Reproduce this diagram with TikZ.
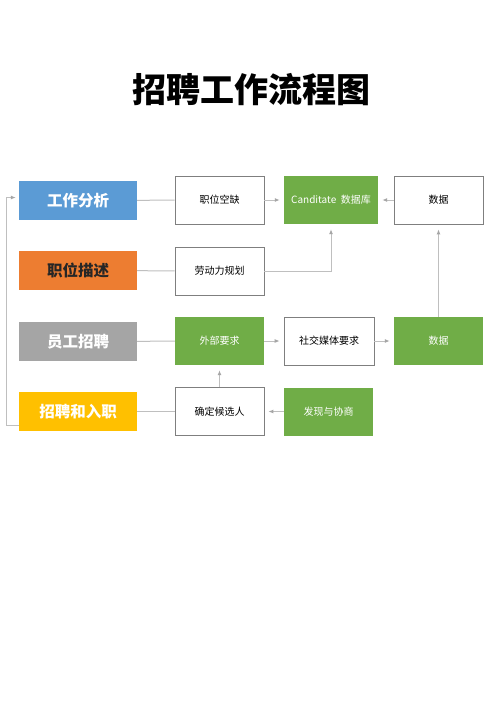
\documentclass[tikz,border=0pt]{standalone}
\usepackage{fontspec}
\setmainfont{Noto Sans CJK SC}
\usetikzlibrary{arrows.meta}
\definecolor{cblue}{HTML}{5B9BD5}
\definecolor{corange}{HTML}{ED7D31}
\definecolor{cgray}{HTML}{A5A5A5}
\definecolor{cyellow}{HTML}{FFC000}
\definecolor{cgreen}{HTML}{70AD47}
\definecolor{cborder}{HTML}{7F7F7F}
\definecolor{cline}{HTML}{BFBFBF}
\definecolor{carrow}{HTML}{A6A6A6}
\begin{document}
\begin{tikzpicture}[x=1pt,y=-1pt,
  catbox/.style={minimum width=118pt,minimum height=39pt,inner sep=0pt,font=\fontsize{15.5}{18}\selectfont\bfseries},
  wbox/.style={draw=cborder,line width=0.7pt,fill=white,minimum width=89pt,minimum height=48pt,inner sep=0pt,font=\fontsize{10}{12}\selectfont},
  gbox/.style={fill=cgreen,text=white,minimum height=48pt,inner sep=0pt,font=\fontsize{10}{12}\selectfont},
  conn/.style={draw=cline,line width=1pt},
  arr/.style={conn,-{Latex[length=5pt,width=4pt,fill=carrow,color=carrow]}}
]
\useasboundingbox[fill=white] (0,0) rectangle (500,707);
\node[font=\fontsize{34}{40}\selectfont\bfseries] (title) at (251,90) {招聘工作流程图};

\node[catbox,fill=cblue,text=white] (a1) at (78,200.5) {工作分析};
\node[catbox,fill=corange,text=black!85] (a2) at (78,270.5) {职位描述};
\node[catbox,fill=cgray,text=white] (a3) at (78,341.5) {员工招聘};
\node[catbox,fill=cyellow,text=white] (a4) at (78,411.5) {招聘和入职};

\node[wbox] (b1) at (219.5,200) {职位空缺};
\node[wbox] (b2) at (219.5,271) {劳动力规划};
\node[gbox,minimum width=89pt] (b3) at (219.5,341) {外部要求};
\node[wbox] (b4) at (219.5,411.5) {确定候选人};

\node[gbox,minimum width=94pt] (c1) at (331,200) {Canditate\ \ 数据库};
\node[wbox,minimum width=90pt] (c3) at (329,341) {社交媒体要求};
\node[gbox,minimum width=89pt] (c4) at (328.5,411.5) {发现与协商};

\node[wbox] (d1) at (438.5,200) {数据};
\node[gbox,minimum width=89pt] (d3) at (438.5,341) {数据};

\draw[conn] (a1) -- (b1);
\draw[conn] (a2) -- (b2);
\draw[conn] (a3) -- (b3);
\draw[conn] (a4) -- (b4);

\draw[arr] (b1) -- ([xshift=-4pt]c1.west);
\draw[arr] (d1) -- ([xshift=4pt]c1.east);
\draw[arr] (b2.east) -| ([yshift=-5pt]c1.south);
\draw[arr] (b3) -- ([xshift=-4pt]c3.west);
\draw[arr] (c3) -- ([xshift=-4pt]d3.west);
\draw[arr] (d3) -- ([yshift=-5pt]d1.south);
\draw[arr] (b4) -- ([yshift=-5pt]b3.south);
\draw[arr] (c4) -- ([xshift=4pt]b4.east);
\draw[arr] ([yshift=-14pt]a4.west) -- ++(-12,0) |- ([xshift=-3pt,yshift=3pt]a1.west);
\end{tikzpicture}
\end{document}
